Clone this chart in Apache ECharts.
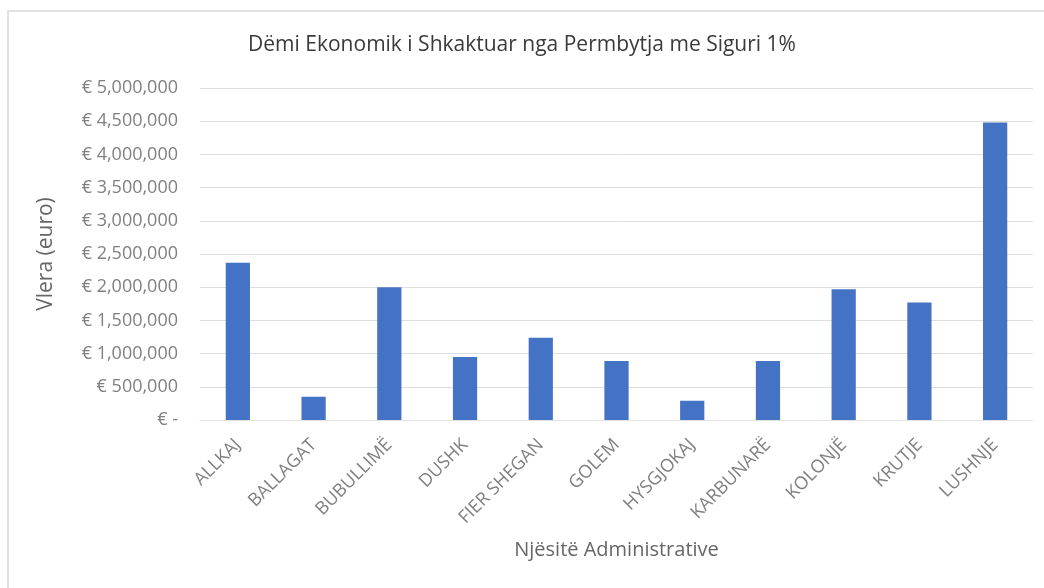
<!DOCTYPE html>
<html>
<head>
<meta charset="utf-8">
<script src="https://cdn.jsdelivr.net/npm/echarts@6/dist/echarts.min.js"></script>
<style>
  html, body { margin: 0; padding: 0; background: #ffffff; }
  #chart { width: 1044px; height: 588px; }
</style>
</head>
<body>
<div id="chart"></div>
<script>
// Administrative units along the x axis
const categories = ['ALLKAJ', 'BALLAGAT', 'BUBULLIMË', 'DUSHK', 'FIER SHEGAN', 'GOLEM',
  'HYSGJOKAJ', 'KARBUNARË', 'KOLONJË', 'KRUTJE', 'LUSHNJE'];

// Economic damage for the 1% flood (euro)
const damageValues = [2370000, 350000, 2000000, 950000, 1240000, 890000,
  290000, 890000, 1970000, 1770000, 4480000];

// Y axis ticks and their labels
const yTicks = [0, 500000, 1000000, 1500000, 2000000, 2500000, 3000000, 3500000, 4000000, 4500000, 5000000];
const yTickLabels = ['€ -', '€ 500,000', '€ 1,000,000', '€ 1,500,000', '€ 2,000,000', '€ 2,500,000',
  '€ 3,000,000', '€ 3,500,000', '€ 4,000,000', '€ 4,500,000', '€ 5,000,000'];

const titleText = 'Dëmi Ekonomik i Shkaktuar nga Permbytja me Siguri 1%';
const yAxisTitle = 'Vlera (euro)';
const xAxisTitle = 'Njësitë Administrative';

const FONT = '"Open Sans", "Noto Sans", sans-serif';

const chart = echarts.init(document.getElementById('chart'), null, { renderer: 'canvas' });

chart.setOption({
  backgroundColor: '#ffffff',
  animation: false,
  title: {
    text: titleText,
    left: 'center',
    top: 30,
    textStyle: { fontFamily: FONT, fontSize: 21, fontWeight: 'normal', color: '#3a3a3a' }
  },
  graphic: [{
    type: 'rect',
    shape: { x: 8, y: 11, width: 1060, height: 600 },
    style: { fill: 'none', stroke: '#d9d9d9', lineWidth: 1.5 },
    silent: true
  }],
  grid: { left: 200, right: 11, top: 88, bottom: 168, containLabel: false },
  xAxis: {
    type: 'category',
    data: categories,
    name: xAxisTitle,
    nameLocation: 'middle',
    nameGap: 120,
    nameTextStyle: { fontFamily: FONT, fontSize: 20, color: '#666666' },
    axisLine: { show: true, lineStyle: { color: '#e3e3e3' } },
    axisTick: { show: false },
    axisLabel: {
      rotate: 45,
      interval: 0,
      margin: 22,
      fontFamily: FONT,
      fontSize: 18,
      color: '#808080'
    }
  },
  yAxis: {
    type: 'value',
    min: yTicks[0],
    max: yTicks[yTicks.length - 1],
    interval: yTicks[1] - yTicks[0],
    name: yAxisTitle,
    nameLocation: 'middle',
    nameGap: 143,
    nameRotate: 90,
    nameTextStyle: { fontFamily: FONT, fontSize: 21, color: '#666666' },
    axisLine: { show: false },
    axisTick: { show: false },
    splitLine: { lineStyle: { color: '#dedede', width: 1 } },
    axisLabel: {
      margin: 22,
      fontFamily: FONT,
      fontSize: 18,
      color: '#808080',
      formatter: function (v) {
        const i = yTicks.indexOf(v);
        return i >= 0 ? yTickLabels[i] : '';
      }
    }
  },
  series: [{
    type: 'bar',
    data: damageValues,
    barWidth: '32%',
    itemStyle: { color: '#4472C4' }
  }]
});
</script>
</body>
</html>
